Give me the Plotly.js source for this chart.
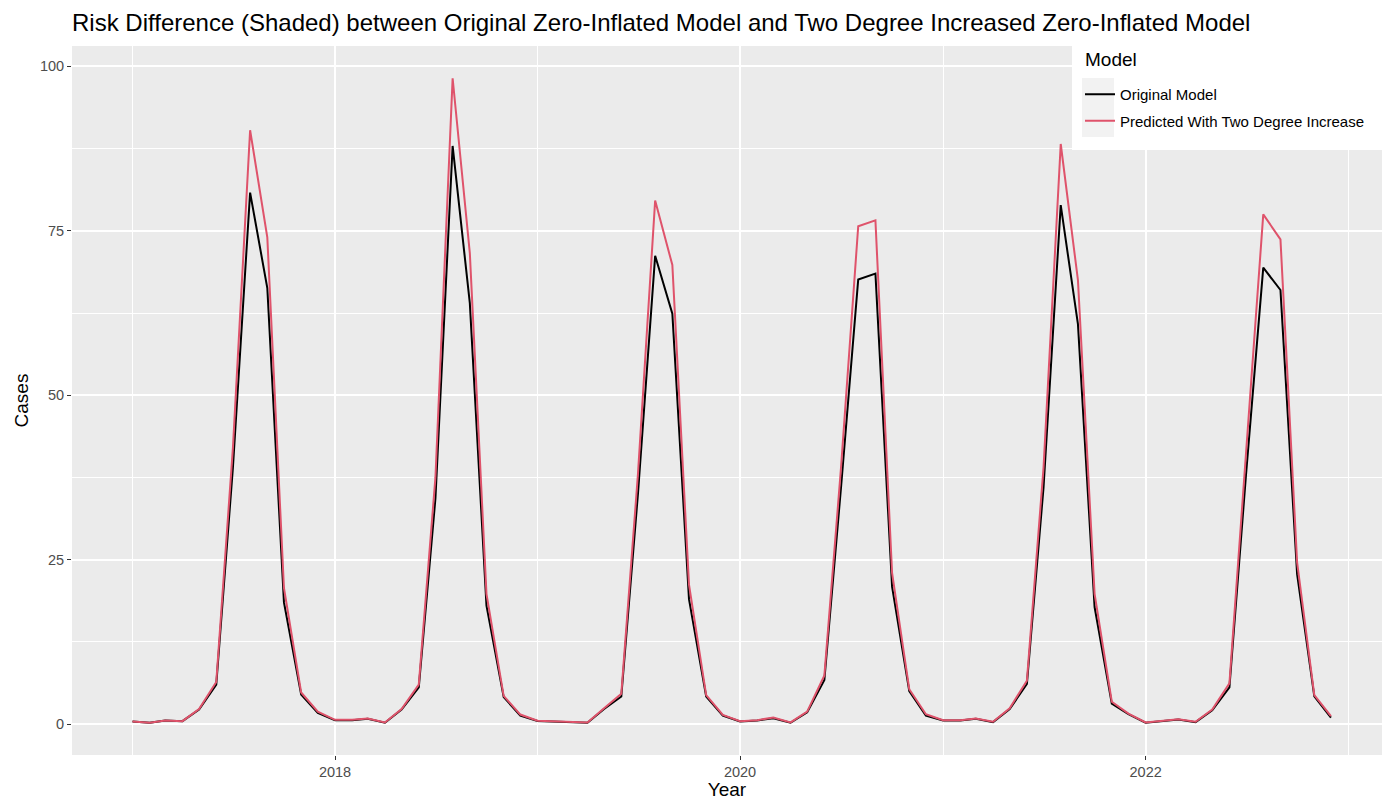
<!DOCTYPE html>
<html>
<head>
<meta charset="utf-8">
<script src="https://cdn.plot.ly/plotly-3.0.1.min.js"></script>
<style>
  html, body { margin: 0; padding: 0; background: #ffffff; }
  #chart { width: 1382px; height: 800px; }
</style>
</head>
<body>
<div id="chart"></div>
<script>
// Monthly dates, Jan 2017 - Dec 2022
const months = [
  '2017-01-01','2017-02-01','2017-03-01','2017-04-01','2017-05-01','2017-06-01','2017-07-01','2017-08-01','2017-09-01','2017-10-01','2017-11-01','2017-12-01',
  '2018-01-01','2018-02-01','2018-03-01','2018-04-01','2018-05-01','2018-06-01','2018-07-01','2018-08-01','2018-09-01','2018-10-01','2018-11-01','2018-12-01',
  '2019-01-01','2019-02-01','2019-03-01','2019-04-01','2019-05-01','2019-06-01','2019-07-01','2019-08-01','2019-09-01','2019-10-01','2019-11-01','2019-12-01',
  '2020-01-01','2020-02-01','2020-03-01','2020-04-01','2020-05-01','2020-06-01','2020-07-01','2020-08-01','2020-09-01','2020-10-01','2020-11-01','2020-12-01',
  '2021-01-01','2021-02-01','2021-03-01','2021-04-01','2021-05-01','2021-06-01','2021-07-01','2021-08-01','2021-09-01','2021-10-01','2021-11-01','2021-12-01',
  '2022-01-01','2022-02-01','2022-03-01','2022-04-01','2022-05-01','2022-06-01','2022-07-01','2022-08-01','2022-09-01','2022-10-01','2022-11-01','2022-12-01'
];

// Original model (cases)
const originalModel = [
  0.4, 0.2, 0.55, 0.45, 2.2, 6.0, 39, 80.8, 66.3, 18.5, 4.5, 1.7,
  0.6, 0.6, 0.8, 0.2, 2.2, 5.6, 34.3, 87.9, 64.0, 18.0, 4.1, 1.3,
  0.46, 0.35, 0.3, 0.2, 2.3, 4.2, 35, 71.2, 62.4, 19.0, 4.2, 1.3,
  0.4, 0.55, 0.9, 0.2, 1.8, 6.7, 36, 67.6, 68.5, 20.9, 5.0, 1.3,
  0.55, 0.55, 0.8, 0.3, 2.3, 6.1, 36, 78.9, 60.8, 17.8, 3.1, 1.5,
  0.2, 0.5, 0.7, 0.3, 2.1, 5.6, 38, 69.4, 66.0, 22.8, 4.2, 1.0
];

// Predicted with two degree increase (cases)
const twoDegreeModel = [
  0.4, 0.2, 0.55, 0.45, 2.3, 6.4, 42, 90.3, 74.0, 20.7, 4.8, 1.9,
  0.65, 0.65, 0.85, 0.25, 2.3, 6.0, 37.5, 98.2, 71.6, 19.8, 4.3, 1.45,
  0.5, 0.4, 0.35, 0.25, 2.4, 4.6, 38, 79.6, 69.8, 21.2, 4.4, 1.4,
  0.45, 0.6, 1.0, 0.25, 1.9, 7.4, 39, 75.7, 76.6, 23.0, 5.3, 1.5,
  0.6, 0.6, 0.85, 0.35, 2.4, 6.6, 39, 88.2, 67.5, 19.8, 3.4, 1.6,
  0.25, 0.55, 0.75, 0.35, 2.2, 6.2, 41, 77.5, 73.7, 24.6, 4.4, 1.2
];

const seriesNames = ['Original Model', 'Predicted With Two Degree Increase'];
const legendTitle = 'Model';
const yTicks = [0, 25, 50, 75, 100];
const xTicks = ['2018-01-01', '2020-01-01', '2022-01-01'];
const xTickText = ['2018', '2020', '2022'];

const FONT = 'Liberation Sans, Arial, Helvetica, sans-serif';

// pixel helpers for the legend box (plot area: x 72..1382, y 46..755)
const px = x => (x - 72) / 1310;
const py = y => (755 - y) / 709;

const traces = [
  {
    x: months, y: originalModel, name: seriesNames[0], legendgroup: 'a',
    type: 'scatter', mode: 'lines',
    line: { color: '#000000', width: 2 }
  },
  {
    x: months, y: twoDegreeModel, name: seriesNames[1], legendgroup: 'b',
    type: 'scatter', mode: 'lines',
    line: { color: '#DF536B', width: 2 }
  }
];

const layout = {
  width: 1382, height: 800,
  margin: { l: 72, r: 0, t: 46, b: 45, pad: 0 },
  paper_bgcolor: '#ffffff',
  plot_bgcolor: '#EBEBEB',
  font: { family: FONT, color: '#000000' },
  title: {
    text: 'Risk Difference (Shaded) between Original Zero-Inflated Model and Two Degree Increased Zero-Inflated Model',
    font: { family: FONT, size: 24, color: '#000000' },
    xref: 'container', x: 72 / 1382, xanchor: 'left',
    yref: 'container', y: 1 - 23 / 800, yanchor: 'middle'
  },
  xaxis: {
    type: 'date',
    range: ['2016-09-14', '2023-03-03'],
    tickmode: 'array', tickvals: xTicks, ticktext: xTickText,
    ticks: 'outside', ticklen: 4, tickwidth: 1, tickcolor: '#333333',
    tickfont: { family: FONT, size: 14.5, color: '#4D4D4D' },
    showgrid: true, gridcolor: '#FFFFFF', gridwidth: 2,
    minor: { tick0: '2017-01-01', dtick: 'M24', showgrid: true, gridcolor: '#FFFFFF', gridwidth: 1, ticks: '' },
    zeroline: false, showline: false,
    title: { text: 'Year', font: { family: FONT, size: 19, color: '#000000' }, standoff: 2 }
  },
  yaxis: {
    range: [-4.7, 103.1],
    tickmode: 'array', tickvals: yTicks,
    ticks: 'outside', ticklen: 4, tickwidth: 1, tickcolor: '#333333',
    tickfont: { family: FONT, size: 14.5, color: '#4D4D4D' },
    showgrid: true, gridcolor: '#FFFFFF', gridwidth: 2,
    minor: { tick0: 12.5, dtick: 25, showgrid: true, gridcolor: '#FFFFFF', gridwidth: 1, ticks: '' },
    zeroline: false, showline: false,
    title: { text: 'Cases', font: { family: FONT, size: 19, color: '#000000' }, standoff: 6 }
  },
  shapes: [
    // legend box background
    { type: 'rect', xref: 'paper', yref: 'paper', layer: 'above',
      x0: px(1072), x1: 1, y0: py(150), y1: py(40),
      fillcolor: '#FFFFFF', line: { width: 0 } },
    // legend key background
    { type: 'rect', xref: 'paper', yref: 'paper', layer: 'above',
      x0: px(1082), x1: px(1114), y0: py(137), y1: py(78),
      fillcolor: '#F2F2F2', line: { width: 0 } }
  ],
  annotations: [
    { text: legendTitle, xref: 'paper', yref: 'paper', x: px(1083), y: py(60),
      xanchor: 'left', yanchor: 'middle', showarrow: false,
      font: { family: FONT, size: 19, color: '#000000' } }
  ],
  showlegend: true,
  legend: {
    x: px(1080), xanchor: 'left',
    y: py(78), yanchor: 'top',
    bgcolor: 'rgba(0,0,0,0)',
    borderwidth: 0,
    font: { family: FONT, size: 15, color: '#000000' },
    tracegroupgap: 4,
    itemwidth: 30
  },
  hovermode: false
};

Plotly.newPlot('chart', traces, layout, { displayModeBar: false, staticPlot: true });
</script>
</body>
</html>
